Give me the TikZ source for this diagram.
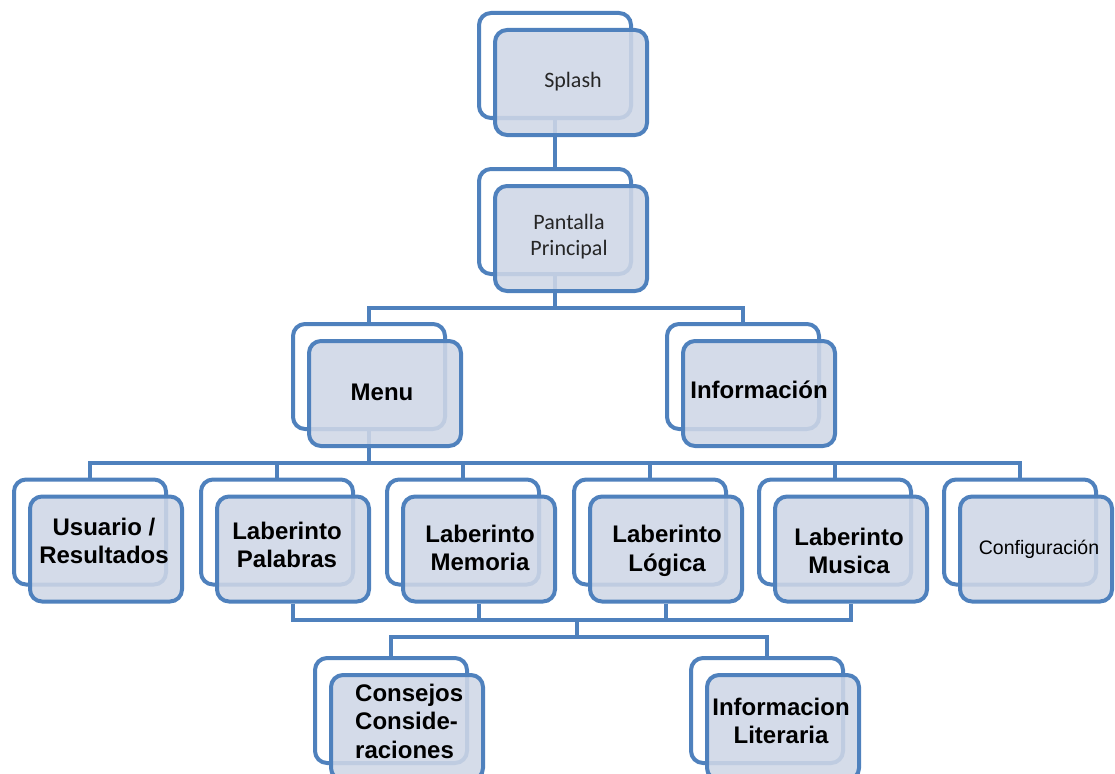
\documentclass[tikz,border=0pt]{standalone}
\usepackage{fontspec}
\setmainfont{Liberation Sans}
\newfontfamily\calfont{Carlito}
\definecolor{lblue}{RGB}{79,129,189}
\definecolor{ffill}{RGB}{207,215,230}
\tikzset{
  conn/.style={draw=lblue, line width=4pt},
  backbox/.style={draw=lblue, line width=4pt, rounded corners=12pt, fill=white,
    minimum width=152pt, minimum height=105pt, inner sep=0pt},
  frontbox/.style={backbox, fill=ffill, fill opacity=0.88},
  bt/.style={font=\fontsize{24}{28.5}\selectfont\bfseries, align=center, text=black, inner sep=0pt},
  ct/.style={font=\calfont\fontsize{22}{26}\selectfont, align=center, text=black!85, inner sep=0pt},
  rt/.style={font=\fontsize{19.5}{24}\selectfont, align=center, text=black, inner sep=0pt},
}
\begin{document}
\begin{tikzpicture}[x=1pt,y=-1pt]
\useasboundingbox (0,0) rectangle (1115,773);
\clip (0,0) rectangle (1115,773);
% back boxes
\node[backbox] (splashB) at (555,65.5) {};
\node[backbox] (pantB) at (555,221.5) {};
\node[backbox] (menuB) at (369,376.5) {};
\node[backbox] (infoB) at (743,376.5) {};
\node[backbox] (usrB) at (90,532) {};
\node[backbox] (palB) at (277,532) {};
\node[backbox] (memB) at (463,532) {};
\node[backbox] (logB) at (650,532) {};
\node[backbox] (musB) at (835,532) {};
\node[backbox] (cfgB) at (1020,532) {};
\node[backbox] (conseB) at (391,710.5) {};
\node[backbox] (litB) at (767,710.5) {};
% junction levels
\coordinate (h1) at (0,308);
\coordinate (h2) at (0,463);
\coordinate (h3) at (0,620);
\coordinate (h4) at (0,637);
\coordinate (m3) at (577,620);
% connectors
\draw[conn] (splashB.south) -- (pantB.north);
\draw[conn] (pantB.south) -- (pantB.south |- h1);
\draw[conn] (menuB.north) -- (menuB.north |- h1) -- (infoB.north |- h1) -- (infoB.north);
\draw[conn] (menuB.south) -- (menuB.south |- h2);
\draw[conn] (usrB.north) -- (usrB.north |- h2) -- (cfgB.north |- h2) -- (cfgB.north);
\draw[conn] (palB.north) -- (palB.north |- h2);
\draw[conn] (memB.north) -- (memB.north |- h2);
\draw[conn] (logB.north) -- (logB.north |- h2);
\draw[conn] (musB.north) -- (musB.north |- h2);
\draw[conn] (m3) -- (m3 |- h4);
\draw[conn] (conseB.north) -- (conseB.north |- h4) -- (litB.north |- h4) -- (litB.north);
% front boxes
\foreach \n in {splash,pant,menu,info,usr,pal,mem,log,mus,cfg,conse,lit}{
  \node[frontbox] (\n) at ([shift={(16,17)}]\n B.center) {};
}
\draw[conn] (pal.south) -- (pal.south |- h3) -- (mus.south |- h3) -- (mus.south);
\draw[conn] (mem.south) -- (mem.south |- h3);
\draw[conn] (log.south) -- (log.south |- h3);
% texts
\node[ct] (splashT) at (573,82) {Splash};
\node[ct] (pantT) at (569,237) {Pantalla\\Principal};
\node[bt] (menuT) at (382,392) {Menu};
\node[bt] (infoT) at (759,390) {Información};
\node[bt] (usrT) at (104,541) {Usuario /\\Resultados};
\node[bt] (palT) at (287,545) {Laberinto\\Palabras};
\node[bt] (memT) at (480,548) {Laberinto\\Memoria};
\node[bt] (logT) at (667,551) {Laberinto\\Lógica};
\node[bt] (musT) at (849,551) {Laberinto\\Musica};
\node[rt] (cfgT) at (1039,549) {Configuración};
\node[bt, align=left, anchor=west] (conseT) at (355,721) {Consejos\\Conside-\\raciones};
\node[bt] (litT) at (781,721) {Informacion\\Literaria};
\end{tikzpicture}
\end{document}
